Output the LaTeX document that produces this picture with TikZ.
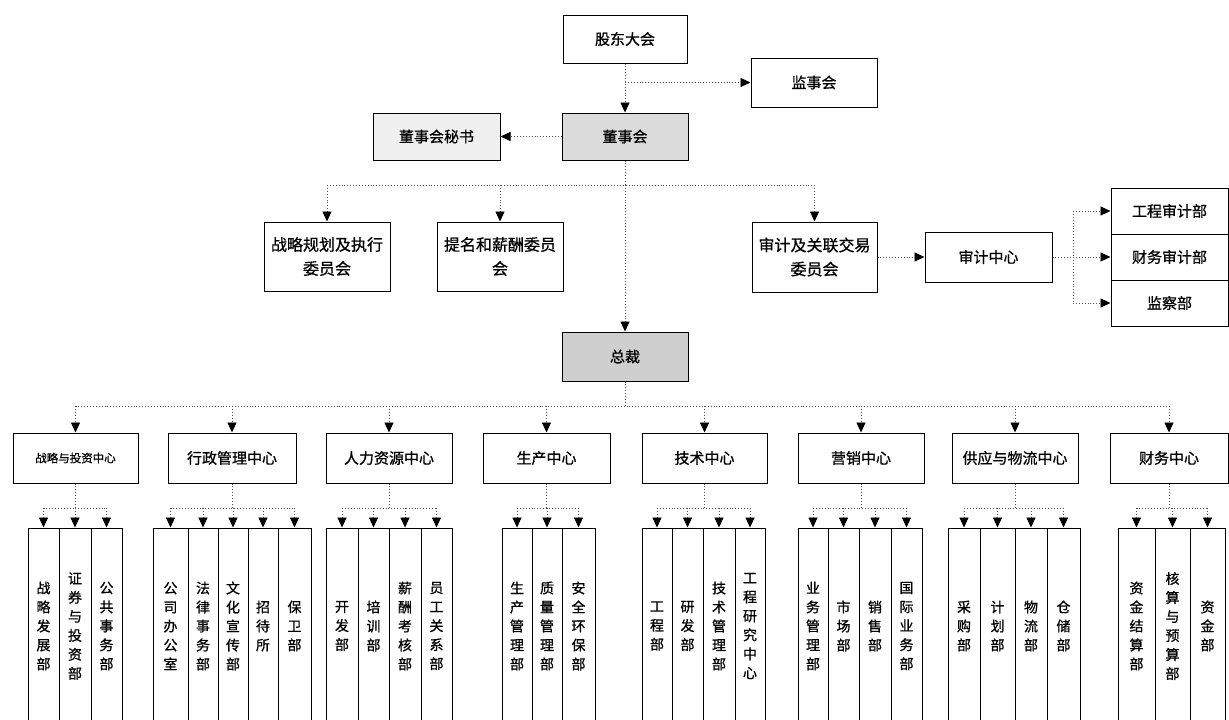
\documentclass[tikz,border=0pt]{standalone}
\usepackage{fontspec}
\setmainfont{Noto Sans CJK SC}[FakeBold=0.8]
\usetikzlibrary{arrows.meta}
\tikzset{
  box/.style={draw=black, line width=1pt, inner sep=0pt, align=center, fill=white},
  subbox/.style={draw=black, line width=1pt, inner sep=0pt, align=center,
                 font=\fontsize{14}{19}\selectfont},
  conn/.style={draw=black!70, line width=0.9pt, dotted},
  arr/.style={-{Triangle[width=9pt,length=10pt,color=black]}},
  fa/.style={font=\fontsize{15}{18}\selectfont},
  fb/.style={font=\fontsize{16}{24}\selectfont},
}
\newcommand\mkgroup[4]{% #1 name, #2 parent node, #3 number of boxes, #4 list l/r/text
  \foreach \l/\r/\t [count=\i] in {#4} {
    \node[subbox, minimum width={\r-\l}, minimum height=196] (#1-\i) at ({(\l+\r)/2},626) {\t};
    \coordinate (#1-b\i) at ({(\l+\r)/2},508);
    \draw[conn,arr] (#1-b\i) -- (#1-\i.north);
  }
  \coordinate (#1-top) at (#2.south |- 0,508);
  \draw[conn] (#2.south) -- (#1-top);
  \draw[conn] (#1-b1) -- (#1-b#3);
}
\begin{document}
\begin{tikzpicture}[x=1pt,y=-1pt]
\useasboundingbox (0,0) rectangle (1229,720);
\clip (0,0) rectangle (1229,720);
\fill[white] (0,0) rectangle (1229,720);

% top level
\node[box,fa,minimum width=124,minimum height=48] (gd) at (625,39) {股东大会};
\node[box,fa,minimum width=126,minimum height=49] (jsh) at (814,82.5) {监事会};
\node[box,fa,minimum width=126,minimum height=47,fill=gray!28] (dsh) at (625,136.5) {董事会};
\node[box,fa,minimum width=127,minimum height=47,fill=gray!12] (ms) at (436.5,136.5) {董事会秘书};

\coordinate (j0) at (gd.south |- jsh.west);
\draw[conn,arr] (gd.south) -- (dsh.north);
\draw[conn,arr] (j0) -- (jsh.west);
\draw[conn,arr] (dsh.west) -- (ms.east);

% committees
\node[box,fb,minimum width=126,minimum height=69] (c1) at (327,256.5) {战略规划及执行\\委员会};
\node[box,fb,minimum width=126,minimum height=69] (c2) at (500,256.5) {提名和薪酬委员\\会};
\node[box,fb,minimum width=125,minimum height=70] (c3) at (814.5,257) {审计及关联交易\\委员会};
\node[box,fa,minimum width=127,minimum height=50] (ac) at (988.5,257) {审计中心};
\node[box,fa,minimum width=117,minimum height=46] (a1) at (1169.5,211) {工程审计部};
\node[box,fa,minimum width=117,minimum height=46] (a2) at (1169.5,257) {财务审计部};
\node[box,fa,minimum width=117,minimum height=46] (a3) at (1169.5,303) {监察部};
\node[box,fa,minimum width=126,minimum height=49,fill=gray!38] (zc) at (625,356.5) {总裁};

\coordinate (cb) at (dsh.south |- 0,185);
\coordinate (cb1) at (c1.north |- cb);
\coordinate (cb3) at (c3.north |- cb);
\draw[conn] (dsh.south) -- (cb);
\draw[conn] (cb1) -- (cb3);
\draw[conn,arr] (cb1) -- (c1.north);
\draw[conn,arr] (c2.north |- cb) -- (c2.north);
\draw[conn,arr] (cb3) -- (c3.north);
\draw[conn,arr] (cb) -- (zc.north);

\draw[conn,arr] (c3.east) -- (ac.west);
\coordinate (ab) at (1073,257);
\coordinate (ab1) at (ab |- a1.west);
\coordinate (ab3) at (ab |- a3.west);
\draw[conn] (ac.east) -- (ab);
\draw[conn] (ab1) -- (ab3);
\draw[conn,arr] (ab1) -- (a1.west);
\draw[conn,arr] (ab) -- (a2.west);
\draw[conn,arr] (ab3) -- (a3.west);

% centers
\node[box,font=\fontsize{11.5}{14}\selectfont,minimum width=125,minimum height=50] (p1) at (75.5,458) {战略与投资中心};
\node[box,fa,minimum width=128,minimum height=50] (p2) at (232,458) {行政管理中心};
\node[box,fa,minimum width=126,minimum height=50] (p3) at (389,458) {人力资源中心};
\node[box,fa,minimum width=127,minimum height=50] (p4) at (546.5,458) {生产中心};
\node[box,fa,minimum width=125,minimum height=50] (p5) at (704.5,458) {技术中心};
\node[box,fa,minimum width=126,minimum height=50] (p6) at (861,458) {营销中心};
\node[box,fa,minimum width=126,minimum height=50] (p7) at (1015,458) {供应与物流中心};
\node[box,fa,minimum width=118,minimum height=50] (p8) at (1169,458) {财务中心};

\coordinate (zb) at (zc.south |- 0,406);
\draw[conn] (zc.south) -- (zb);
\draw[conn] (p1.north |- zb) -- (p8.north |- zb);
\foreach \p in {p1,p2,p3,p4,p5,p6,p7,p8}
  \draw[conn,arr] (\p.north |- zb) -- (\p.north);

% departments
\mkgroup{g1}{p1}{3}{28/59/{战\\略\\发\\展\\部}, 59/91/{证\\券\\与\\投\\资\\部}, 91/122/{公\\共\\事\\务\\部}}
\mkgroup{g2}{p2}{5}{153/188/{公\\司\\办\\公\\室}, 188/218/{法\\律\\事\\务\\部}, 218/248/{文\\化\\宣\\传\\部}, 248/278/{招\\待\\所}, 278/311/{保\\卫\\部}}
\mkgroup{g3}{p3}{4}{326/358/{开\\发\\部}, 358/389/{培\\训\\部}, 389/421/{薪\\酬\\考\\核\\部}, 421/452/{员\\工\\关\\系\\部}}
\mkgroup{g4}{p4}{3}{502/532/{生\\产\\管\\理\\部}, 532/562/{质\\量\\管\\理\\部}, 562/595/{安\\全\\环\\保\\部}}
\mkgroup{g5}{p5}{4}{642/672/{工\\程\\部}, 672/703/{研\\发\\部}, 703/735/{技\\术\\管\\理\\部}, 735/765/{工\\程\\研\\究\\中\\心}}
\mkgroup{g6}{p6}{4}{798/828/{业\\务\\管\\理\\部}, 828/859/{市\\场\\部}, 859/891/{销\\售\\部}, 891/922/{国\\际\\业\\务\\部}}
\mkgroup{g7}{p7}{4}{948/980/{采\\购\\部}, 980/1015/{计\\划\\部}, 1015/1047/{物\\流\\部}, 1047/1080/{仓\\储\\部}}
\mkgroup{g8}{p8}{3}{1118/1155/{资\\金\\结\\算\\部}, 1155/1190/{核\\算\\与\\预\\算\\部}, 1190/1225/{资\\金\\部}}
\end{tikzpicture}
\end{document}
